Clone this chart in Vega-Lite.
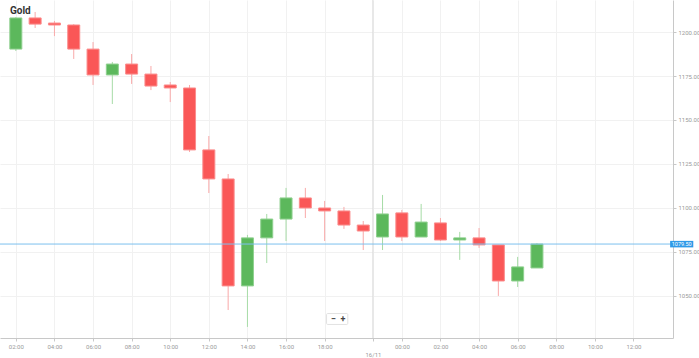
{
  "$schema": "https://vega.github.io/schema/vega-lite/v6.json",
  "width": 673,
  "height": 338,
  "autosize": "none",
  "padding": {"left": 0, "top": 0, "right": 26, "bottom": 20},
  "background": "white",
  "title": {"text": "Gold", "anchor": "start", "orient": "top", "frame": "group", "offset": -16, "dx": 10, "fontSize": 10, "fontWeight": "bold", "font": "Roboto", "color": "#333333"},
  "config": {
    "view": {"stroke": null},
    "axis": {"labelFont": "Roboto", "labelColor": "#9a9a9a", "labelFontSize": 6, "domainColor": "#c8c8c8", "tickColor": "#c8c8c8", "gridColor": "#f1f1f1", "tickSize": 3}
  },
  "datasets": {
    "candles": [
      {"t": "02:00", "i": 0, "open": 1190.3, "high": 1208.5, "low": 1189.2, "close": 1208.0},
      {"t": "03:00", "i": 1, "open": 1208.0, "high": 1211.4, "low": 1202.3, "close": 1204.5},
      {"t": "04:00", "i": 2, "open": 1205.1, "high": 1206.3, "low": 1197.7, "close": 1204.0},
      {"t": "05:00", "i": 3, "open": 1204.0, "high": 1204.5, "low": 1184.7, "close": 1190.3},
      {"t": "06:00", "i": 4, "open": 1190.3, "high": 1194.3, "low": 1169.9, "close": 1175.6},
      {"t": "07:00", "i": 5, "open": 1175.6, "high": 1183.0, "low": 1159.1, "close": 1181.8},
      {"t": "08:00", "i": 6, "open": 1181.8, "high": 1187.5, "low": 1170.5, "close": 1176.1},
      {"t": "09:00", "i": 7, "open": 1176.1, "high": 1180.7, "low": 1167.0, "close": 1169.3},
      {"t": "10:00", "i": 8, "open": 1169.9, "high": 1171.6, "low": 1160.2, "close": 1168.2},
      {"t": "11:00", "i": 9, "open": 1168.2, "high": 1169.9, "low": 1131.8, "close": 1133.0},
      {"t": "12:00", "i": 10, "open": 1133.0, "high": 1140.9, "low": 1108.5, "close": 1116.5},
      {"t": "13:00", "i": 11, "open": 1116.5, "high": 1119.3, "low": 1042.0, "close": 1055.7},
      {"t": "14:00", "i": 12, "open": 1055.7, "high": 1084.7, "low": 1032.4, "close": 1083.0},
      {"t": "15:00", "i": 13, "open": 1083.0, "high": 1096.6, "low": 1068.7, "close": 1093.7},
      {"t": "16:00", "i": 14, "open": 1093.7, "high": 1111.4, "low": 1081.2, "close": 1105.7},
      {"t": "17:00", "i": 15, "open": 1105.7, "high": 1111.4, "low": 1094.3, "close": 1100.0},
      {"t": "18:00", "i": 16, "open": 1100.0, "high": 1104.0, "low": 1081.2, "close": 1098.3},
      {"t": "19:00", "i": 17, "open": 1098.3, "high": 1100.6, "low": 1088.1, "close": 1090.3},
      {"t": "20:00", "i": 18, "open": 1090.3, "high": 1092.6, "low": 1076.1, "close": 1086.9},
      {"t": "23:00", "i": 19, "open": 1083.5, "high": 1107.4, "low": 1076.1, "close": 1096.6},
      {"t": "00:00", "i": 20, "open": 1097.2, "high": 1098.9, "low": 1081.2, "close": 1083.5},
      {"t": "01:00", "i": 21, "open": 1083.5, "high": 1102.3, "low": 1083.5, "close": 1092.0},
      {"t": "02:00", "i": 22, "open": 1091.5, "high": 1094.3, "low": 1081.2, "close": 1081.8},
      {"t": "03:00", "i": 23, "open": 1081.8, "high": 1086.4, "low": 1070.5, "close": 1083.0},
      {"t": "04:00", "i": 24, "open": 1083.0, "high": 1088.6, "low": 1077.3, "close": 1079.0},
      {"t": "05:00", "i": 25, "open": 1079.0, "high": 1079.0, "low": 1050.0, "close": 1058.5},
      {"t": "06:00", "i": 26, "open": 1058.5, "high": 1072.2, "low": 1055.1, "close": 1066.5},
      {"t": "07:00", "i": 27, "open": 1065.9, "high": 1080.1, "low": 1065.9, "close": 1079.5}
    ],
    "day": [{"i": 18.5, "label": "16/11"}],
    "last": [{"price": 1079.5, "label": "1079.50"}],
    "zoom": [{"label": "−", "i": 16.45}, {"label": "+", "i": 16.95}]
  },
  "layer": [
    {
      "data": {"name": "day"},
      "mark": {"type": "rule", "color": "#dadada", "strokeWidth": 1},
      "encoding": {
        "x": {
          "field": "i", "type": "quantitative",
          "scale": {"domain": [-0.5615, 33.79], "nice": false, "zero": false},
          "axis": {
            "orient": "bottom",
            "values": [0, 2, 4, 6, 8, 10, 12, 14, 16, 18.5, 20, 22, 24, 26, 28, 30, 32],
            "labelExpr": "datum.value == 18.5 ? ['', '16/11'] : ['02:00','03:00','04:00','05:00','06:00','07:00','08:00','09:00','10:00','11:00','12:00','13:00','14:00','15:00','16:00','17:00','18:00','19:00','20:00','23:00','00:00','01:00','02:00','03:00','04:00','05:00','06:00','07:00','08:00','09:00','10:00','11:00','12:00'][datum.value]",
            "labelPadding": 2,
            "labelLineHeight": 8,
            "labelBaseline": "top",
            "title": null,
            "grid": true,
            "labelFlush": false,
            "labelOverlap": false
          }
        }
      }
    },
    {
      "data": {"name": "candles"},
      "mark": {"type": "rule", "strokeWidth": 1},
      "encoding": {
        "x": {"field": "i", "type": "quantitative"},
        "y": {
          "field": "low", "type": "quantitative",
          "scale": {"domain": [1026.1, 1218.2], "nice": false, "zero": false},
          "axis": {
            "orient": "right",
            "values": [1050, 1075, 1100, 1125, 1150, 1175, 1200],
            "format": ".2f",
            "labelPadding": 2,
            "title": null,
            "grid": true
          }
        },
        "y2": {"field": "high"},
        "color": {"condition": {"test": "datum.close >= datum.open", "value": "#a6dba6"}, "value": "#f9a9a9"}
      }
    },
    {
      "data": {"name": "candles"},
      "mark": {"type": "bar", "size": 12, "strokeWidth": 1},
      "encoding": {
        "x": {"field": "i", "type": "quantitative"},
        "y": {"field": "open", "type": "quantitative"},
        "y2": {"field": "close"},
        "fill": {"condition": {"test": "datum.close >= datum.open", "value": "#5cb85c"}, "value": "#fa5757"},
        "stroke": {"condition": {"test": "datum.close >= datum.open", "value": "#8fd08f"}, "value": "#fb8d8d"}
      }
    },
    {
      "data": {"name": "last"},
      "mark": {"type": "rule", "color": "#7cc0ee", "strokeWidth": 1},
      "encoding": {
        "y": {"field": "price", "type": "quantitative"}
      }
    },
    {
      "data": {"name": "last"},
      "mark": {"type": "rect", "color": "#2f9ae8", "clip": false},
      "encoding": {
        "x": {"datum": 33.9},
        "x2": {"datum": 35.1},
        "y": {"datum": 1081.3},
        "y2": {"datum": 1077.6}
      }
    },
    {
      "data": {"name": "last"},
      "mark": {"type": "text", "color": "white", "fontSize": 5.5, "font": "Roboto", "align": "center", "baseline": "middle", "clip": false},
      "encoding": {
        "x": {"datum": 34.5},
        "y": {"field": "price", "type": "quantitative"},
        "text": {"field": "label"}
      }
    },
    {
      "data": {"name": "last"},
      "mark": {"type": "rect", "fill": "white", "stroke": "#e2e2e2", "strokeWidth": 1, "cornerRadius": 1},
      "encoding": {
        "x": {"datum": 16.1},
        "x2": {"datum": 17.2},
        "y": {"datum": 1040.0},
        "y2": {"datum": 1033.8}
      }
    },
    {
      "data": {"name": "zoom"},
      "mark": {"type": "text", "color": "#444444", "fontSize": 9, "fontWeight": "bold", "font": "Roboto", "align": "center", "baseline": "middle"},
      "encoding": {
        "x": {"field": "i", "type": "quantitative"},
        "y": {"datum": 1036.9},
        "text": {"field": "label"}
      }
    }
  ]
}
